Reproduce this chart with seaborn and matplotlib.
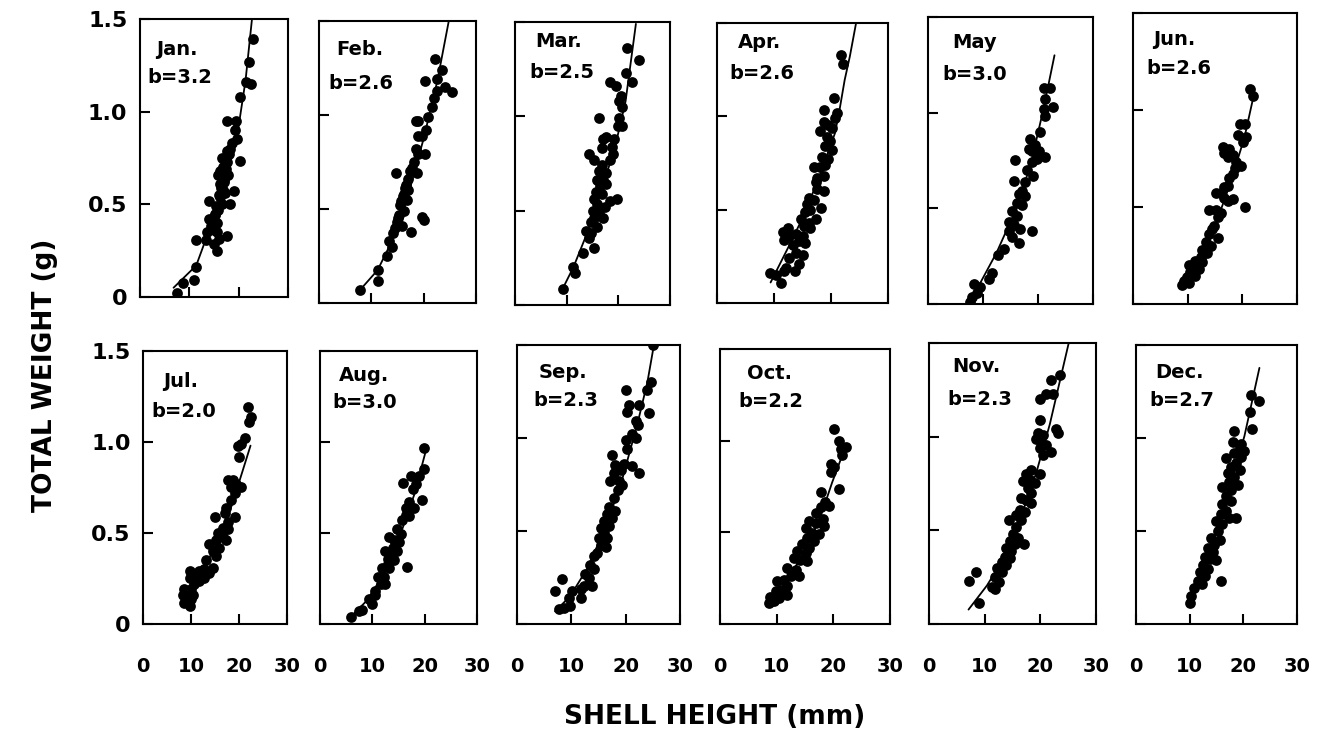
import matplotlib
matplotlib.use("Agg")
import matplotlib.pyplot as plt
import seaborn as sns

# ---------------- data ----------------
months = ["Jan.", "Feb.", "Mar.", "Apr.", "May", "Jun.",
          "Jul.", "Aug.", "Sep.", "Oct.", "Nov.", "Dec."]
b_labels = ["b=3.2", "b=2.6", "b=2.5", "b=2.6", "b=3.0", "b=2.6",
            "b=2.0", "b=3.0", "b=2.3", "b=2.2", "b=2.3", "b=2.7"]
x_ticks = [0, 10, 20, 30]
x_tick_labels = ["0", "10", "20", "30"]
y_ticks = [0, 0.5, 1.0, 1.5]
y_tick_labels = ["0", "0.5", "1.0", "1.5"]

jan_x = [22.9, 22.0, 22.4, 21.4, 20.2, 17.7, 19.5, 19.2, 19.7, 18.7, 18.2, 17.6, 20.2, 17.7, 16.3, 15.9, 17.8, 17.1,
         16.3, 19.0, 16.9, 17.3, 16.3, 18.2, 13.9, 16.7, 15.9, 15.3, 14.6, 13.9, 15.6, 14.3, 15.0, 15.6, 13.6, 11.4,
         13.3, 16.0, 17.7, 15.0, 15.6, 11.4, 11.0, 8.8, 7.6, 16.8, 17.0, 16.5, 15.5, 16.0, 14.8, 15.2, 17.4, 16.6, 18.0]
jan_y = [1.39, 1.27, 1.15, 1.16, 1.08, 0.95, 0.95, 0.90, 0.855, 0.83, 0.80, 0.79, 0.735, 0.73, 0.68, 0.66, 0.66, 0.63,
         0.61, 0.57, 0.58, 0.56, 0.54, 0.50, 0.52, 0.50, 0.47, 0.45, 0.42, 0.42, 0.40, 0.385, 0.36, 0.35, 0.35, 0.31,
         0.31, 0.315, 0.33, 0.285, 0.25, 0.16, 0.09, 0.077, 0.024, 0.70, 0.62, 0.59, 0.49, 0.55, 0.40, 0.44, 0.69, 0.75, 0.77]
jan_fit_x = [6.8, 11.4, 13.6, 17.0, 19.7, 21.4, 22.7]
jan_fit_y = [0.05, 0.17, 0.33, 0.59, 0.87, 1.17, 1.50]

feb_x = [22.2, 23.5, 20.3, 22.6, 24.0, 25.4, 22.6, 21.9, 21.6, 20.9, 18.6, 19.0, 20.5, 19.0, 19.7, 18.6, 20.3, 19.0,
         18.1, 17.4, 18.7, 14.7, 17.1, 16.5, 16.0, 16.8, 15.5, 16.2, 15.2, 19.7, 20.0, 14.9, 15.8, 17.6, 14.2, 13.3,
         13.9, 12.9, 11.2, 11.3, 7.8, 16.6, 17.0, 15.7, 16.3, 17.8, 15.0, 14.6]
feb_y = [1.30, 1.24, 1.18, 1.19, 1.15, 1.125, 1.13, 1.09, 1.04, 0.99, 0.97, 0.97, 0.92, 0.89, 0.89, 0.82, 0.79, 0.79,
         0.75, 0.70, 0.69, 0.69, 0.66, 0.61, 0.57, 0.55, 0.52, 0.49, 0.47, 0.46, 0.44, 0.43, 0.41, 0.38, 0.375, 0.33,
         0.30, 0.25, 0.175, 0.116, 0.068, 0.63, 0.60, 0.54, 0.58, 0.72, 0.45, 0.40]
feb_fit_x = [7.8, 11.2, 13.6, 16.8, 20.0, 22.6, 24.8]
feb_fit_y = [0.068, 0.175, 0.31, 0.55, 0.875, 1.18, 1.50]

mar_x = [21.6, 24.0, 18.4, 19.6, 21.4, 22.6, 20.5, 20.2, 20.8, 20.2, 16.2, 19.9, 20.8, 17.7, 19.1, 17.1, 16.8, 18.7,
         18.9, 14.4, 15.3, 18.4, 16.8, 16.2, 17.7, 17.1, 15.9, 16.5, 17.7, 15.6, 16.8, 19.8, 15.3, 18.4, 15.9, 17.4,
         15.0, 16.2, 15.3, 17.1, 14.7, 15.9, 13.8, 14.7, 14.4, 15.3, 13.2, 11.3, 11.6, 9.2]
mar_y = [1.36, 1.30, 1.18, 1.16, 1.23, 1.18, 1.11, 1.08, 1.05, 0.99, 0.99, 0.95, 0.95, 0.89, 0.88, 0.88, 0.83, 0.84,
         0.80, 0.80, 0.77, 0.77, 0.74, 0.71, 0.70, 0.66, 0.66, 0.63, 0.64, 0.60, 0.59, 0.56, 0.56, 0.55, 0.535, 0.52,
         0.50, 0.49, 0.46, 0.46, 0.44, 0.415, 0.39, 0.38, 0.355, 0.30, 0.275, 0.20, 0.17, 0.085]
mar_fit_x = [9.2, 11.3, 13.8, 16.5, 19.3, 21.4, 23.4]
mar_fit_y = [0.085, 0.20, 0.37, 0.59, 0.83, 1.08, 1.49]

apr_x = [21.7, 22.1, 20.5, 18.8, 21.1, 20.7, 18.7, 19.5, 18.1, 20.2, 19.3, 19.8, 19.0, 20.1, 18.4, 19.5, 18.1, 17.0,
         19.0, 17.5, 18.7, 17.3, 18.7, 17.5, 16.1, 17.0, 15.8, 18.3, 16.4, 15.4, 17.3, 14.7, 16.1, 15.3, 16.4, 11.5,
         12.4, 12.7, 13.8, 15.0, 11.8, 14.4, 13.3, 15.5, 13.8, 15.0, 12.7, 14.4, 12.1, 11.8, 13.7, 9.3, 10.4, 11.3]
apr_y = [1.33, 1.28, 1.10, 1.035, 1.02, 0.99, 0.97, 0.955, 0.92, 0.94, 0.89, 0.87, 0.84, 0.82, 0.78, 0.77, 0.73, 0.73,
         0.74, 0.67, 0.68, 0.65, 0.60, 0.61, 0.56, 0.55, 0.53, 0.51, 0.50, 0.49, 0.45, 0.45, 0.43, 0.41, 0.40, 0.38,
         0.40, 0.36, 0.37, 0.36, 0.34, 0.33, 0.31, 0.32, 0.27, 0.255, 0.24, 0.21, 0.19, 0.17, 0.17, 0.16, 0.15, 0.105]
apr_fit_x = [9.4, 12.7, 15.5, 18.4, 20.7, 21.5, 22.4, 23.3, 24.4]
apr_fit_y = [0.11, 0.31, 0.486, 0.716, 0.91, 1.035, 1.195, 1.32, 1.50]

may_x = [21.0, 22.2, 21.3, 22.8, 21.0, 21.3, 20.4, 18.6, 19.5, 18.3, 18.9, 20.1, 21.3, 19.8, 15.9, 18.9, 18.0, 19.1,
         15.6, 17.7, 17.1, 16.5, 17.7, 16.2, 17.1, 15.3, 16.2, 14.7, 15.6, 18.9, 16.8, 14.7, 15.3, 16.5, 13.8, 12.8,
         11.6, 11.0, 8.3, 9.5, 8.9, 8.0, 7.6]
may_y = [1.13, 1.13, 1.07, 1.03, 1.02, 0.98, 0.90, 0.86, 0.83, 0.81, 0.80, 0.80, 0.77, 0.76, 0.755, 0.74, 0.70, 0.67,
         0.645, 0.64, 0.59, 0.575, 0.565, 0.53, 0.52, 0.486, 0.46, 0.43, 0.415, 0.38, 0.39, 0.38, 0.35, 0.32, 0.29,
         0.255, 0.16, 0.13, 0.105, 0.087, 0.06, 0.034, 0.01]
may_fit_x = [7.2, 9.5, 12.5, 15.6, 18.6, 21.0, 23.0]
may_fit_y = [0.0, 0.11, 0.27, 0.47, 0.72, 1.02, 1.30]

jun_x = [21.4, 22.0, 19.5, 20.4, 19.2, 20.7, 20.1, 16.4, 17.6, 16.7, 18.3, 17.3, 18.9, 19.8, 18.6, 18.3, 17.6, 17.3,
         16.7, 15.2, 16.1, 16.7, 17.3, 18.3, 20.4, 13.9, 15.2, 16.1, 15.5, 14.8, 14.5, 13.9, 15.5, 13.3, 14.2, 12.7,
         13.6, 12.4, 11.4, 12.7, 10.2, 11.1, 12.0, 10.5, 11.4, 9.9, 9.3, 10.2, 8.9]
jun_y = [1.11, 1.07, 0.93, 0.93, 0.87, 0.86, 0.835, 0.81, 0.80, 0.78, 0.77, 0.76, 0.73, 0.71, 0.70, 0.67, 0.65, 0.61,
         0.605, 0.57, 0.57, 0.545, 0.53, 0.54, 0.50, 0.486, 0.486, 0.47, 0.45, 0.40, 0.385, 0.36, 0.34, 0.32, 0.30,
         0.28, 0.265, 0.24, 0.22, 0.215, 0.20, 0.19, 0.18, 0.165, 0.146, 0.14, 0.12, 0.11, 0.10]
jun_fit_x = [9.3, 11.7, 14.8, 17.9, 20.4, 22.2]
jun_fit_y = [0.12, 0.21, 0.385, 0.63, 0.86, 1.09]

jul_x = [21.9, 22.4, 22.0, 21.3, 20.5, 19.8, 20.1, 18.7, 17.7, 19.4, 18.3, 20.5, 19.1, 18.4, 17.3, 17.0, 14.9, 19.1,
         17.7, 16.6, 17.7, 15.6, 16.6, 17.3, 15.2, 15.9, 13.8, 14.6, 15.2, 13.1, 14.6, 12.8, 13.8, 11.7, 9.7, 10.7,
         12.8, 9.7, 11.7, 10.7, 8.6, 10.0, 9.3, 8.3, 10.4, 9.0, 10.0, 8.6, 9.7]
jul_y = [1.19, 1.14, 1.11, 1.02, 0.99, 0.98, 0.92, 0.79, 0.79, 0.77, 0.755, 0.755, 0.72, 0.68, 0.635, 0.61, 0.59, 0.59,
         0.56, 0.53, 0.52, 0.50, 0.48, 0.46, 0.46, 0.42, 0.44, 0.40, 0.375, 0.35, 0.31, 0.30, 0.28, 0.29, 0.29, 0.265,
         0.255, 0.255, 0.237, 0.22, 0.19, 0.19, 0.17, 0.16, 0.16, 0.135, 0.135, 0.117, 0.10]
jul_fit_x = [8.6, 12.1, 15.6, 18.4, 20.5, 22.4]
jul_fit_y = [0.145, 0.27, 0.46, 0.645, 0.82, 0.98]

aug_x = [19.9, 19.9, 18.9, 17.3, 15.9, 18.3, 17.7, 19.4, 17.0, 16.4, 18.0, 17.0, 15.7, 14.8, 13.2, 15.4, 14.1, 15.1,
         12.5, 13.5, 14.8, 12.9, 14.1, 16.7, 11.9, 13.2, 11.0, 12.2, 11.6, 12.5, 10.6, 9.4, 10.0, 8.1, 7.5, 5.9,
         16.5, 14.0, 13.0, 10.5]
aug_y = [0.965, 0.85, 0.815, 0.815, 0.775, 0.77, 0.74, 0.68, 0.67, 0.64, 0.64, 0.595, 0.57, 0.52, 0.476, 0.495, 0.46,
         0.45, 0.40, 0.39, 0.40, 0.357, 0.35, 0.315, 0.31, 0.31, 0.256, 0.256, 0.22, 0.22, 0.18, 0.137, 0.11, 0.077,
         0.07, 0.04, 0.60, 0.42, 0.33, 0.16]
aug_fit_x = [5.9, 9.0, 12.2, 15.4, 18.0, 20.3]
aug_fit_y = [0.04, 0.13, 0.275, 0.495, 0.71, 0.96]

sep_x = [25.1, 24.6, 24.0, 20.0, 20.6, 22.5, 20.3, 24.3, 21.9, 22.2, 21.2, 21.9, 20.0, 17.5, 20.3, 19.7, 21.2, 22.5,
         18.1, 19.1, 17.8, 17.2, 18.8, 19.4, 18.5, 17.8, 16.9, 18.1, 16.6, 17.5, 16.0, 15.4, 16.9, 16.0, 15.0, 16.6,
         15.4, 16.3, 14.8, 14.1, 13.5, 14.1, 12.6, 13.2, 13.8, 12.3, 11.7, 8.3, 7.0, 10.1, 9.5, 11.7, 9.8, 8.6, 7.7]
sep_y = [1.50, 1.30, 1.26, 1.26, 1.18, 1.18, 1.14, 1.135, 1.09, 1.07, 1.02, 1.00, 0.99, 0.91, 0.94, 0.86, 0.85, 0.81,
         0.855, 0.83, 0.81, 0.77, 0.77, 0.745, 0.72, 0.68, 0.63, 0.61, 0.59, 0.57, 0.553, 0.516, 0.526, 0.49, 0.46,
         0.46, 0.425, 0.416, 0.38, 0.366, 0.315, 0.297, 0.27, 0.25, 0.205, 0.205, 0.187, 0.24, 0.178, 0.178, 0.14,
         0.14, 0.095, 0.086, 0.08]
sep_fit_x = [7.0, 9.8, 12.9, 16.0, 19.1, 22.2, 24.0, 25.2]
sep_fit_y = [0.068, 0.15, 0.297, 0.50, 0.75, 1.08, 1.30, 1.50]

oct_x = [20.1, 21.0, 22.2, 21.3, 21.6, 19.5, 20.1, 19.5, 21.0, 17.8, 18.6, 19.2, 17.8, 16.9, 18.1, 15.7, 16.9, 18.3,
         15.1, 16.3, 17.5, 15.4, 16.6, 14.5, 15.7, 13.6, 15.1, 13.1, 14.2, 15.4, 11.9, 13.4, 12.5, 13.9, 11.3, 10.1,
         11.9, 10.7, 9.8, 11.9, 8.9, 10.4, 9.5, 8.6]
oct_y = [1.066, 1.00, 0.965, 0.956, 0.92, 0.874, 0.855, 0.83, 0.736, 0.72, 0.663, 0.645, 0.636, 0.608, 0.571, 0.562,
         0.553, 0.535, 0.526, 0.498, 0.489, 0.47, 0.452, 0.434, 0.416, 0.397, 0.388, 0.36, 0.35, 0.342, 0.306, 0.297,
         0.26, 0.26, 0.242, 0.233, 0.205, 0.187, 0.178, 0.16, 0.15, 0.14, 0.123, 0.117]
oct_fit_x = [9.2, 11.9, 14.8, 17.8, 19.8, 21.9]
oct_fit_y = [0.123, 0.242, 0.388, 0.59, 0.773, 0.947]

nov_x = [23.5, 22.0, 21.1, 22.3, 19.9, 19.9, 22.9, 23.2, 19.6, 20.5, 19.3, 20.2, 21.1, 19.9, 22.0, 20.5, 18.4, 17.5,
         19.9, 18.1, 16.9, 19.0, 17.8, 18.4, 16.6, 17.5, 18.4, 16.3, 17.2, 15.7, 14.3, 16.6, 15.7, 15.1, 16.0, 14.6,
         15.5, 17.0, 13.9, 14.8, 13.7, 14.6, 13.1, 13.9, 12.2, 13.1, 11.9, 12.5, 11.3, 11.9, 8.4, 7.2, 8.9]
nov_y = [1.33, 1.30, 1.23, 1.23, 1.20, 1.09, 1.04, 1.02, 1.02, 1.01, 0.99, 0.97, 0.956, 0.94, 0.92, 0.90, 0.82, 0.80,
         0.80, 0.77, 0.764, 0.755, 0.727, 0.70, 0.67, 0.66, 0.645, 0.608, 0.60, 0.58, 0.553, 0.553, 0.516, 0.48, 0.46,
         0.443, 0.425, 0.425, 0.407, 0.39, 0.36, 0.35, 0.333, 0.315, 0.297, 0.28, 0.25, 0.223, 0.196, 0.187, 0.28,
         0.227, 0.114]
nov_fit_x = [7.1, 10.4, 13.4, 16.3, 19.3, 21.7, 25.1]
nov_fit_y = [0.077, 0.205, 0.35, 0.553, 0.81, 1.066, 1.50]

dec_x = [21.5, 22.9, 21.3, 21.7, 18.3, 18.0, 19.6, 19.3, 20.2, 18.3, 19.6, 16.8, 18.6, 17.7, 19.3, 17.1, 18.3, 17.4,
         19.0, 16.1, 17.7, 16.8, 17.7, 16.1, 16.8, 15.9, 18.6, 17.4, 14.9, 16.1, 15.2, 14.0, 15.6, 14.6, 13.4, 14.3,
         12.8, 13.7, 14.9, 12.5, 13.4, 11.9, 12.8, 15.9, 11.5, 12.3, 10.9, 10.3, 10.0]
dec_y = [1.23, 1.20, 1.14, 1.05, 1.04, 0.98, 0.97, 0.95, 0.93, 0.92, 0.90, 0.89, 0.865, 0.846, 0.83, 0.81, 0.79, 0.764,
         0.745, 0.736, 0.718, 0.69, 0.663, 0.645, 0.608, 0.59, 0.57, 0.57, 0.553, 0.535, 0.498, 0.46, 0.452, 0.425,
         0.407, 0.388, 0.36, 0.35, 0.342, 0.315, 0.297, 0.278, 0.26, 0.233, 0.233, 0.214, 0.196, 0.15, 0.114]
dec_fit_x = [10.0, 12.2, 14.6, 17.7, 20.2, 23.0]
dec_fit_y = [0.15, 0.278, 0.48, 0.755, 1.01, 1.377]

scatter_x = [jan_x, feb_x, mar_x, apr_x, may_x, jun_x, jul_x, aug_x, sep_x, oct_x, nov_x, dec_x]
scatter_y = [jan_y, feb_y, mar_y, apr_y, may_y, jun_y, jul_y, aug_y, sep_y, oct_y, nov_y, dec_y]
fit_x = [jan_fit_x, feb_fit_x, mar_fit_x, apr_fit_x, may_fit_x, jun_fit_x,
         jul_fit_x, aug_fit_x, sep_fit_x, oct_fit_x, nov_fit_x, dec_fit_x]
fit_y = [jan_fit_y, feb_fit_y, mar_fit_y, apr_fit_y, may_fit_y, jun_fit_y,
         jul_fit_y, aug_fit_y, sep_fit_y, oct_fit_y, nov_fit_y, dec_fit_y]

# ---------------- layout (pixel boxes: left, top, right, bottom) ----------------
W, H = 1322, 729
boxes = [(140, 19, 288, 297), (319, 21, 476, 303), (515, 22, 670, 305),
         (717, 23, 888, 303), (928, 17, 1093, 304), (1133, 13, 1297, 304),
         (143, 351, 287, 624), (320, 351, 477, 624), (517, 345, 680, 624),
         (720, 349, 890, 624), (929, 343, 1096, 624), (1136, 345, 1297, 624)]
# label anchors in axes fraction: (month_x, month_y, b_x, b_y)
label_pos = [(0.11, 0.89, 0.05, 0.79), (0.11, 0.90, 0.06, 0.78), (0.13, 0.93, 0.09, 0.82),
             (0.12, 0.93, 0.07, 0.82), (0.145, 0.91, 0.09, 0.80), (0.12, 0.91, 0.08, 0.81),
             (0.14, 0.89, 0.06, 0.78), (0.12, 0.91, 0.08, 0.81), (0.135, 0.90, 0.10, 0.80),
             (0.16, 0.91, 0.11, 0.81), (0.14, 0.915, 0.11, 0.80), (0.12, 0.90, 0.08, 0.80)]

sns.set_theme(style="ticks")
plt.rcParams["font.family"] = ["DejaVu Sans"]
plt.rcParams["font.weight"] = "bold"
plt.rcParams["text.color"] = "black"
plt.rcParams["xtick.color"] = "black"
plt.rcParams["ytick.color"] = "black"
plt.rcParams["xtick.labelcolor"] = "black"
plt.rcParams["ytick.labelcolor"] = "black"
plt.rcParams["axes.edgecolor"] = "black"

fig = plt.figure(figsize=(W / 100, H / 100), dpi=100)
fig.patch.set_facecolor("white")

for i in range(12):
    l, t, r, b = boxes[i]
    ax = fig.add_axes([l / W, 1 - b / H, (r - l) / W, (b - t) / H])
    ax.set_facecolor("white")
    sns.lineplot(x=fit_x[i], y=fit_y[i], ax=ax, color="black", linewidth=1.3,
                 sort=False, estimator=None, zorder=2)
    sns.scatterplot(x=scatter_x[i], y=scatter_y[i], ax=ax, color="black", s=60,
                    linewidth=0, zorder=3, clip_on=True)
    ax.set_xlim(0, 30)
    ax.set_ylim(0, 1.5)
    ax.set_xticks(x_ticks)
    ax.set_yticks(y_ticks)
    for sp in ax.spines.values():
        sp.set_visible(True)
        sp.set_linewidth(1.5)
        sp.set_color("black")
    ax.tick_params(axis="both", direction="in", length=7, width=1.5,
                   color="black", labelcolor="black")
    ax.tick_params(axis="x", pad=24, labelsize=14)
    ax.tick_params(axis="y", pad=9, labelsize=16)
    if i >= 6:
        ax.set_xticklabels(x_tick_labels, fontweight="bold", color="black")
    else:
        ax.set_xticklabels([])
    if i % 6 == 0:
        ax.set_yticklabels(y_tick_labels, fontweight="bold", color="black")
    else:
        ax.set_yticklabels([])
    ax.set_xlabel("")
    ax.set_ylabel("")
    mx, my, bx, by = label_pos[i]
    ax.text(mx, my, months[i], transform=ax.transAxes, ha="left", va="center",
            fontsize=14, fontweight="bold", color="black")
    ax.text(bx, by, b_labels[i], transform=ax.transAxes, ha="left", va="center",
            fontsize=14, fontweight="bold", color="black")

fig.text(715 / W, 1 - 717 / H, "SHELL HEIGHT (mm)", ha="center", va="center",
         fontsize=19, fontweight="bold", color="black")
fig.text(45 / W, 1 - 375 / H, "TOTAL WEIGHT (g)", ha="center", va="center",
         rotation=90, fontsize=19, fontweight="bold", color="black")

fig.savefig("out.png", dpi=100, facecolor="white")
